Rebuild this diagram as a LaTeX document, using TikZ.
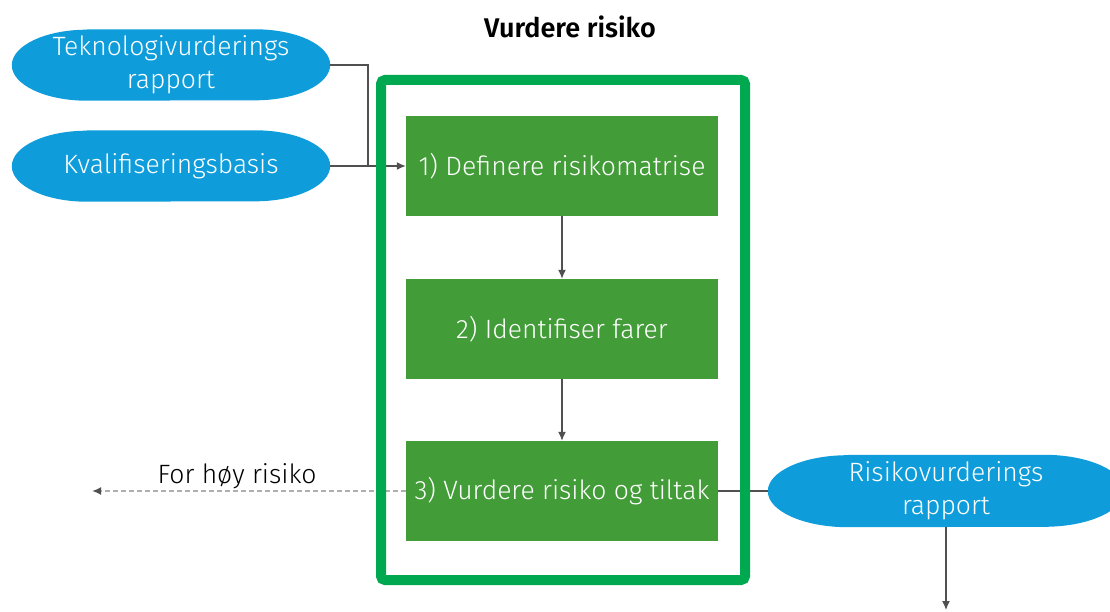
\documentclass[tikz,border=0pt]{standalone}
\usepackage{fontspec}
\IfFontExistsTF{Fira Sans Light}
  {\setmainfont{Fira Sans Light}[BoldFont=Fira Sans SemiBold]}
  {\setmainfont{Fira Sans}}
\usetikzlibrary{arrows.meta,backgrounds}

\definecolor{stepgreen}{RGB}{66,156,56}
\definecolor{framegreen}{RGB}{0,168,80}
\definecolor{docblue}{RGB}{14,157,218}
\definecolor{linegray}{RGB}{80,80,80}
\definecolor{dashgray}{RGB}{175,175,175}

\begin{document}
\begin{tikzpicture}[x=1pt,y=-1pt,
  txt/.style={font=\fontsize{26.5}{33}\selectfont},
  stepbox/.style={txt, fill=stepgreen, text=white, minimum width=312pt,
    minimum height=100pt, inner sep=0pt},
  doc/.style={txt, text=white, align=center, inner sep=0pt,
    minimum width=318pt, minimum height=71pt},
  outerframe/.style={draw=framegreen, line width=10pt, rounded corners=4pt,
    minimum width=364pt, minimum height=500pt, inner sep=0pt},
  wire/.style={draw=linegray, line width=1.3pt},
  conn/.style={wire, -{Latex[length=9pt,width=8pt]}},
  dashconn/.style={draw=dashgray, line width=1.8pt, dash pattern=on 5pt off 3pt,
    -{Latex[length=9pt,width=8pt,color=linegray,fill=linegray]}},
]
\useasboundingbox (0,0) rectangle (1110,612);

% title
\node[font=\fontsize{27}{30}\selectfont\bfseries] (title) at (570,27) {Vurdere risiko};

% inputs and output documents
\node[doc] (tek) at (171,65) {Teknologivurderings\\rapport};
\node[doc] (kval) at (171,166) {Kvalifiseringsbasis};
\node[doc, minimum width=356pt, minimum height=72pt] (risk) at (946,491) {Risikovurderings\\rapport};

% process steps
\node[stepbox] (s1) at (562,166) {1) Definere risikomatrise};
\node[stepbox] (s2) at (562,329) {2) Identifiser farer};
\node[stepbox] (s3) at (562,491) {3) Vurdere risiko og tiltak};

% rounded document shapes behind the blue nodes
\begin{pgfonlayer}{background}
  \foreach \n/\a/\h in {tek/75/35.5, kval/75/35.5, risk/80/36}{
    \fill[docblue] ([xshift=\a]\n.north west) -- ([xshift=-\a]\n.north east)
      arc[start angle=90, end angle=-90, x radius=\a pt, y radius=\h pt]
      -- ([xshift=\a]\n.south west)
      arc[start angle=270, end angle=90, x radius=\a pt, y radius=\h pt] -- cycle;
  }
\end{pgfonlayer}

% connectors
\coordinate (join) at (368,166);
\coordinate (high) at (92,491);
\coordinate (out) at (946,610);
\draw[wire] (tek.east) -| (join);
\draw[conn] (kval.east) -- (s1.west);
\draw[conn] (s1.south) -- (s2.north);
\draw[conn] (s2.south) -- (s3.north);
\draw[wire] (s3.east) -- (risk.west);
\draw[conn] (risk.south) -- (out);
\draw[dashconn] (s3.west) -- (high);
\node[txt, text=black] (hightxt) at (237,476) {For høy risiko};

% frame around the process
\node[outerframe] (frame) at (563,330) {};
\end{tikzpicture}
\end{document}
